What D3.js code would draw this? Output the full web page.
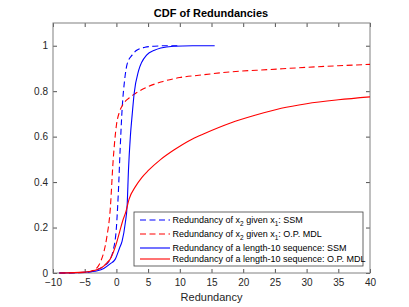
<!DOCTYPE html>
<html>
<head>
<meta charset="utf-8">
<script src="https://d3js.org/d3.v7.min.js"></script>
<style>
  body { margin: 0; background: #fff; }
  svg { font-family: "Liberation Sans", Arial, sans-serif; }
  .tick text { font-size: 10px; fill: #262626; }
</style>
</head>
<body>
<svg width="409" height="307"></svg>
<script>
// series: [x, cdf]
const ssmPair = [[-9,0],[-5,0.002],[-4,0.006],[-3,0.015],[-2,0.03],[-1,0.06],[-0.5,0.1],[0,0.2],[0.3,0.35],[0.6,0.55],[0.9,0.72],[1.3,0.85],[1.7,0.92],[2.5,0.96],[3.2,0.98],[4.5,0.993],[6,0.998],[8,1],[10,1]];
const mdlPair = [[-9,0],[-5,0.003],[-4,0.008],[-3,0.025],[-2.5,0.05],[-2,0.09],[-1.5,0.16],[-1,0.27],[-0.5,0.5],[0,0.65],[0.5,0.71],[1,0.74],[2,0.77],[3,0.79],[5,0.82],[7,0.84],[10,0.86],[13,0.87],[18,0.885],[24,0.895],[30,0.905],[35,0.912],[40,0.918]];
const ssmSeq = [[-9,0],[-5,0.003],[-4,0.006],[-3,0.01],[-2,0.02],[-1,0.04],[-0.2,0.06],[0.5,0.11],[0.9,0.14],[1.4,0.22],[1.7,0.3],[1.9,0.45],[2.2,0.6],[2.5,0.7],[2.8,0.79],[3.5,0.89],[4.8,0.96],[6,0.98],[7,0.99],[9,0.998],[12,1],[15.5,1]];
const mdlSeq = [[-9,0],[-5,0.004],[-4,0.008],[-3,0.015],[-2,0.03],[-1.5,0.045],[-1,0.06],[-0.5,0.09],[0,0.13],[0.5,0.18],[1,0.23],[1.5,0.27],[2,0.325],[3,0.38],[4,0.42],[5,0.45],[7,0.5],[9,0.54],[12,0.59],[14,0.615],[18,0.66],[22,0.695],[26,0.725],[30,0.745],[35,0.762],[40,0.775]];

const xTicks = [-10,-5,0,5,10,15,20,25,30,35,40];
const yTicks = [0,0.2,0.4,0.6,0.8,1];

const series = [
  {data: ssmPair, color: "#0000ff", dash: "6,3.5", sub: true, label: ": SSM"},
  {data: mdlPair, color: "#ff0000", dash: "6,3.5", sub: true, label: ": O.P. MDL"},
  {data: ssmSeq, color: "#0000ff", dash: null, sub: false, label: "Redundancy of a length-10 sequence: SSM"},
  {data: mdlSeq, color: "#ff0000", dash: null, sub: false, label: "Redundancy of a length-10 sequence: O.P. MDL"}
];

const svg = d3.select("svg");
const m = {left: 53, right: 370, top: 23, bottom: 273};

const x = d3.scaleLinear().domain([-10, 40]).range([m.left, m.right]);
const y = d3.scaleLinear().domain([0, 1.1]).range([m.bottom, m.top]);

// axes with inward ticks on all sides
const axisColor = "#262626";
function styleAxis(g) {
  g.select(".domain").remove();
  g.selectAll(".tick line").attr("stroke", axisColor).attr("stroke-width", 0.8);
}
svg.append("g").attr("transform", `translate(0,${m.bottom})`)
  .call(d3.axisBottom(x).tickValues(xTicks).tickSizeInner(-4).tickSizeOuter(0).tickPadding(6).tickFormat(d3.format("d")))
  .call(styleAxis);
svg.append("g").attr("transform", `translate(0,${m.top})`)
  .call(d3.axisTop(x).tickValues(xTicks).tickSizeInner(-4).tickSizeOuter(0).tickFormat(""))
  .call(styleAxis);
svg.append("g").attr("transform", `translate(${m.left},0)`)
  .call(d3.axisLeft(y).tickValues(yTicks).tickSizeInner(-4).tickSizeOuter(0).tickPadding(5).tickFormat(d => d === 0 || d === 1 ? d : d3.format(".1f")(d)))
  .call(styleAxis);
svg.append("g").attr("transform", `translate(${m.right},0)`)
  .call(d3.axisRight(y).tickValues(yTicks).tickSizeInner(-4).tickSizeOuter(0).tickFormat(""))
  .call(styleAxis);

svg.append("rect")
  .attr("x", m.left).attr("y", m.top)
  .attr("width", m.right - m.left).attr("height", m.bottom - m.top)
  .attr("fill", "none").attr("stroke", "#808080").attr("stroke-width", 1);

// curves
const line = d3.line().x(d => x(d[0])).y(d => y(d[1])).curve(d3.curveMonotoneX);
svg.append("g").selectAll("path").data(series).enter().append("path")
  .attr("d", d => line(d.data))
  .attr("fill", "none")
  .attr("stroke", d => d.color)
  .attr("stroke-width", 1.1)
  .attr("stroke-dasharray", d => d.dash);

// title and label
svg.append("text").attr("x", 211).attr("y", 17).attr("text-anchor", "middle")
  .attr("font-size", 11).attr("font-weight", "bold").attr("fill", "#000")
  .text("CDF of Redundancies");
svg.append("text").attr("x", x(15)).attr("y", 301).attr("text-anchor", "middle")
  .attr("font-size", 11).attr("fill", "#262626")
  .text("Redundancy");

// legend
const lg = svg.append("g");
lg.append("rect").attr("x", 134).attr("y", 212).attr("width", 229).attr("height", 54)
  .attr("fill", "#fff").attr("stroke", "#404040").attr("stroke-width", 0.8);
const rowY = [220, 234, 248, 259];
series.forEach((s, i) => {
  lg.append("line").attr("x1", 140).attr("x2", 170).attr("y1", rowY[i]).attr("y2", rowY[i])
    .attr("stroke", s.color).attr("stroke-width", 1.1).attr("stroke-dasharray", s.dash);
  const t = lg.append("text").attr("x", 172.5).attr("y", rowY[i] + 3.2)
    .attr("font-size", 9).attr("fill", "#000");
  if (s.sub) {
    t.append("tspan").text("Redundancy of x");
    t.append("tspan").attr("dy", 3).attr("font-size", 6.5).text("2");
    t.append("tspan").attr("dy", -3).text(" given x");
    t.append("tspan").attr("dy", 3).attr("font-size", 6.5).text("1");
    t.append("tspan").attr("dy", -3).text(s.label);
  } else {
    t.text(s.label);
  }
});
</script>
</body>
</html>
